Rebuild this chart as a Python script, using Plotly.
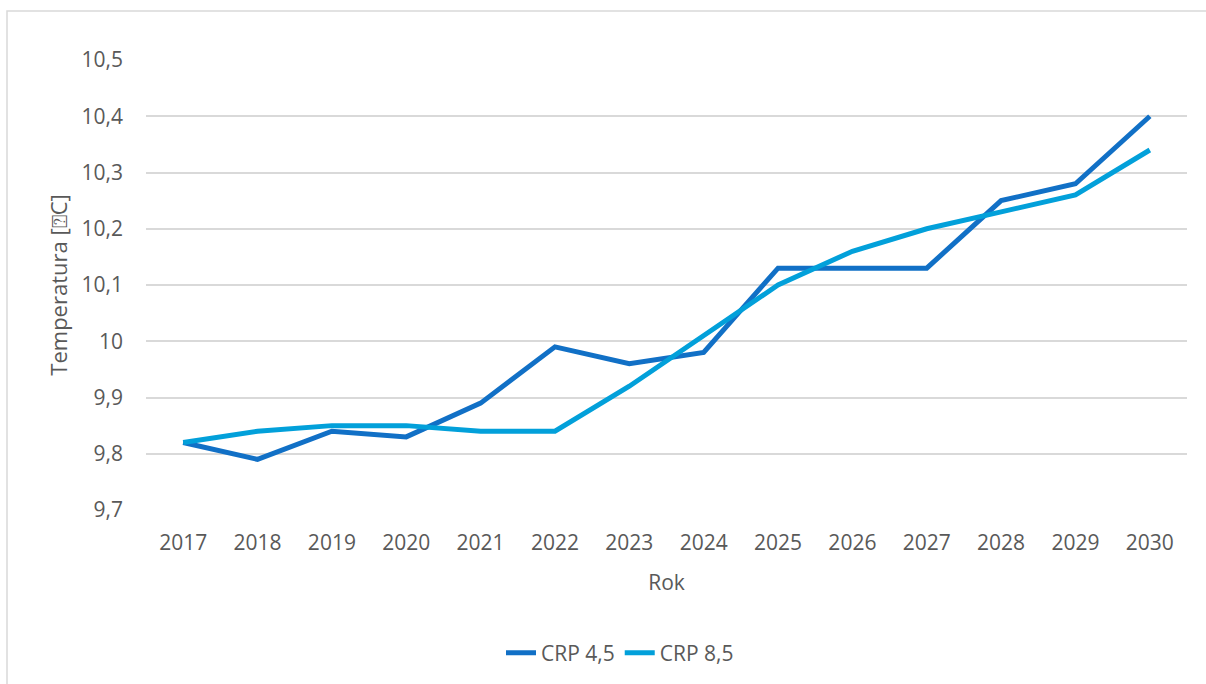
import plotly.graph_objects as go

years = ["2017", "2018", "2019", "2020", "2021", "2022", "2023",
         "2024", "2025", "2026", "2027", "2028", "2029", "2030"]
crp45 = [9.82, 9.79, 9.84, 9.83, 9.89, 9.99, 9.96, 9.98, 10.13, 10.13, 10.13, 10.25, 10.28, 10.40]
crp85 = [9.82, 9.84, 9.85, 9.85, 9.84, 9.84, 9.92, 10.01, 10.10, 10.16, 10.20, 10.23, 10.26, 10.34]
y_ticks = [9.7, 9.8, 9.9, 10.0, 10.1, 10.2, 10.3, 10.4, 10.5]
y_tick_text = ["9,7", "9,8", "9,9", "10", "10,1", "10,2", "10,3", "10,4", "10,5"]

W, H = 1206, 684
L, R, T, B = 146, 1187, 60, 511
pw, ph = R - L, B - T

def px(x):
    return (x - L) / pw

def py(y):
    return (B - y) / ph

FONT = "Open Sans"
TXT = "#595959"
FS = 21

fig = go.Figure()
fig.add_trace(go.Scatter(x=years, y=crp45, mode="lines", name="CRP 4,5",
                         line=dict(color="#1170C6", width=5)))
fig.add_trace(go.Scatter(x=years, y=crp85, mode="lines", name="CRP 8,5",
                         line=dict(color="#02A0DA", width=5)))

fig.update_layout(
    width=W, height=H,
    margin=dict(l=L, r=W - R, t=T, b=H - B, pad=0),
    paper_bgcolor="white", plot_bgcolor="white",
    font=dict(family=FONT, size=FS, color=TXT),
    showlegend=True,
    legend=dict(orientation="h", x=px(620), xanchor="center", y=py(653), yanchor="middle",
                font=dict(size=FS, color=TXT), traceorder="normal",
                bgcolor="rgba(0,0,0,0)"),
    xaxis=dict(type="category", showgrid=False, showline=False, zeroline=False,
               ticks="", tickfont=dict(size=FS, color=TXT), ticklabelstandoff=18,
               title=dict(text="Rok", font=dict(size=FS, color=TXT), standoff=20),
               range=[-0.5, 13.5]),
    yaxis=dict(range=[9.7, 10.5], tickvals=y_ticks, ticktext=y_tick_text,
               showgrid=True, gridcolor="#D9D9D9", gridwidth=1.5,
               zeroline=False, showline=False, ticks="",
               tickfont=dict(size=FS, color=TXT), ticklabelstandoff=22,
               title=dict(text="Temperatura [⍰C]", font=dict(size=22, color=TXT), standoff=7)),
    shapes=[dict(type="rect", xref="paper", yref="paper",
                 x0=px(7), x1=px(1215), y0=py(700), y1=py(11),
                 line=dict(color="#D9D9D9", width=1.5), fillcolor="rgba(0,0,0,0)", layer="below")],
)

fig.write_html("out.html", config={"displayModeBar": False},
               post_script="document.body.style.margin='0';document.body.style.overflow='hidden';")
